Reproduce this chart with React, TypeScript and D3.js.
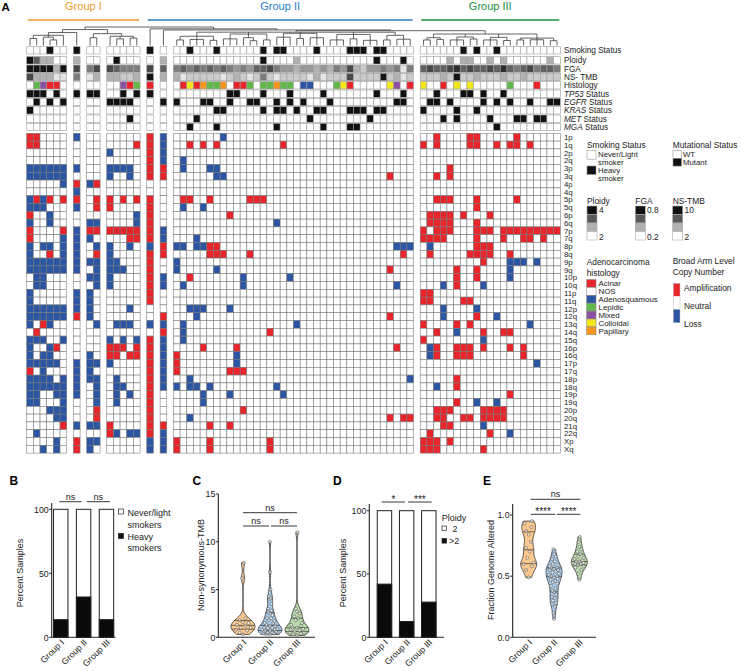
import * as d3 from "d3";

const FONT = "'Liberation Sans', Arial, Helvetica, sans-serif";
const W = 741;
const H = 671;

// ---------------- heatmap data ----------------
// columns are listed cluster by cluster, clusters are separated by one empty slot:
// 6 | 1 | 2 | 5 | 1 | 1 | 36 (six chunks of 6) | 21 (three chunks of 7)
const blockSizes = [6, 1, 2, 5, 1, 1, 36, 21];

const groups = [
  { name: "Group I", color: "#f39a2b", from: 0, to: 13 },
  { name: "Group II", color: "#2b7bc9", from: 14, to: 51 },
  { name: "Group III", color: "#22903f", from: 52, to: 72 },
];

// annotation tracks
const smoking = "...x.. x .. ..... x . ..x... x..... .x.xx. ...x.. ..xxx. xx.... ......x .x..x.. .......";
const ploidy = "321100 1 00 03000 0 1 000000 000000 030000 100000 000000 300030 0000101 1001010 0000010";
const fga = "999939 7 57 76555 7 6 565656 565454 667544 344343 547324 454515 6766786 7667686 5675665";
const tmb = "733311 5 13 33223 9 3 312222 212321 252122 221312 227222 292312 2223292 2322232 2322222";
const histology = ".lmaa. . .. ..mal a . .acapl lp.aal .llpll .ss... lca... ..cm.a c..a.c. c.....l ...a...";
const tp53 = "xxx.x. x xx ..x.x x . ...... ..xx.. .x...x ....x. ...... x...x. ..x...x x.x..x. .......";
const egfr = ".x.x.x . .. xxxx. . x x...xx ..x..x x..x.x .x...x ...... ...xx. .xx.x.. ..x.x.x ..x..xx";
const kras = "x..... . .. ..... . . ...... xx.... .x.xx. x..xx. ..xxx. xx.... x....x. .x..... .......";
const met = "...... . .. ...x. . . ...x.. ...... ...... ..x... .....x ...... ...x.x. ...x... xx.xx..";
const mga = "...... . .. ..... . . ..x... x..... ...x.. ....x. ..xx.. ...... ....... ....x.. .......";

const arms = [
  "1p", "1q", "2p", "2q", "3p", "3q", "4p", "4q", "5p", "5q", "6p", "6q", "7p", "7q",
  "8p", "8q", "9p", "9q", "10p", "10q", "11p", "11q", "12p", "12q", "13q", "14q", "15q",
  "16p", "16q", "17p", "17q", "18p", "18q", "19p", "19q", "20p", "20q", "21q", "22q", "Xp", "Xq",
];

// r = amplification, b = loss, . = neutral
const cnv = [
  "rr.... b .. ..... r b ...... .b.... ...... ...... ...... ...... ..r.... rr..... r......",
  "rr.... . .. ....r r b ..r.r. r..... ....r. ...... ...... ...... r.r.... rr..r.r r.r....",
  "...... . .. b.... r b ...... ...... ...... ...... ...... ...... ....... ....... .......",
  "...... . .. ..... r b .b.... ...... ...... ...... ...... ...... ....... ....... .......",
  "bbbbbb b .. bbbb. r r .b...b b..... ...... ...... ...... ...... ....r.. ....... .......",
  "bbbbbb . .. b..b. r r ...... bb.... ...... ...... ...... ..r... ..r.r.. ....... .......",
  ".....b r br ..... . . ...... ...... ...... ...... ...... ...... ....... ....... .......",
  "...... b .. ..... . . ...... ...... ...... ...... ...... ...... ....... ....... .......",
  "brbr.r r .r r.r.r r . .rr..r .....r rr.... ...... ...... ...... ..rrr.. .r..... r......",
  "bbb... b .r r.... r . .b..b. ...... ...... ...... ...... ...... ....... .r..... .......",
  "r..b.. . .. ....b r . ...... ..r... ...... ...... ...... ...... .rrrr.r ...r... .......",
  "b..b.. . bb ....b r . ...... ...... ...b.. ...... ...... ...... .rrrr.. .r..... .......",
  "r....r b rr rrrrr r b ...... ...... ...... ...... ...... ...... r.rrr.. .rrr.rr rrrrrrr",
  "r....b b b. ...rr r b ...b.. ...... ...... ...... ...... ...... rrrr... .r...r. .rr.r..",
  "b.bb.b b .b b..b. b r bb.bbr r..... ...... ...... ...... ...bbb .b..... .rrr... .......",
  "b..r.b b .r b.... r r .....r rr...r ...... ...... ...... ....r. .r..... rrrr..r .......",
  "bbbbbb b bb bb... r . b..... ...... ...... ...... ...... ...... ....... ..r...b bb.b...",
  "bbbbbb b .b bbb.. r . b..... b..... ...... ...... ...... ..r... .....r. .r....b .......",
  ".bb... . bb b.... r b ..r... ....b. .....b ...... ...... ...... .....r. .r....b .......",
  ".bb... . .b b.... r b .b.... ....b. ...... ...... ...... ...b.. ...b.r. ..b.... .......",
  "b..... b b. ..... r . ...... ...... ...... ...... ...... ...... rr..... ....... .......",
  "b..... b b. ..... r . ...... ...... ...... ...... ...... ...... rr....r r...... .......",
  "bbbbbb b b. ...b. . . ..bbb. ..b... ...... ...... ...... ...... ...b... .b..... .......",
  "bbbbbb r b. ..... . r ...b.. ...... ...... ...... ...... ..r... ...b... .r..b.. .......",
  "b.rb.. . .b .bbb. b b .b.... ...... ...... b..... ...... ...... r....r. r...... ..b....",
  ".r.... . .. ..... . r .b.... ...... ..r... ...... ...... ...... ..r..b. ..r..rr .......",
  "bbb..b . .. b.b.b r b .b.... ...... ...... ...... ...... ...... r...... ..b.... .......",
  "b..br. . .. rrr.r r b ....r. ...r.. ...... ...... ...... ...r.. .br..rr r.r...r .r.....",
  "b.bb.. . b. rr.rr r b r..... ...b.. ...... ...... ...... ...... .br..rr r...... .r.....",
  "bbbbb. b bb b.... r b r..... ...b.. ...... ...... ...... ...... ....... ....... ...b...",
  "r.b... b b. ..... r b r..... ..rrr. ...... ...... ...... ...... ....... ....... .......",
  "bbbb.b b bb .b... r b ..b... ...... ...... ...... ...... .....b .....r. ....... .......",
  "bbbbbb b .b .bb.. r b b.bb.b ...... ...b.. ...... ...... ...... ..b..r. ....... .......",
  "bb..bb b .b .b.b. r . ....b. ..b... ....b. ...... ...... ...... ....... ......r .......",
  "bb...b . .b .b... r . ....b. ...... ...... ...... ...... ...... .....r. .b..b.. .......",
  "...bbb . .r ..... r . ...... ....r. ...... ...... ...... ...... ..rrr.. ..rrrr. .......",
  "....bb . .r ..... r . ..b... ...... ...... ...... ...... ..r.rr ..rr..r r.rrrr. .......",
  ".....r b bb r.... r r .....r ..r... ...... ...... ...... ...... ...rr.. ..b.... .......",
  ".b.... . .. rb.bb r b ...... ...... ...... ...... ...... ...... .r..... ...r..b .......",
  "....b. r bb ..... b b r....r ...... ..r... ...... ...... ...... rrr.r.. ....... .......",
  "..b.b. r b. ..... b b r....r ...... ..r... ...... ...... ...... rrr.... ..r.... .......",
];

// dendrogram: [height, ...children], leaves are column indices
const dendrogram: any = [1.0,
  [0.86,
    [0.7, [0.55, [0.38, 0, 1], [0.45, 2, [0.3, 3, 4]], 5], 6],
    [0.64, [0.42, 7, 8], [0.5, 9, [0.36, 10, 11], [0.4, 12, 13]]]],
  [0.9, 14,
    [0.84, 15,
      [0.8,
        [0.72,
          [0.5, [0.3, 16, 17], [0.33, 18, 19, 20], [0.28, 21, 22]],
          [0.62, [0.36, 23, 24, 25], [0.42, 26, [0.26, 27, 28]], [0.3, 29, 30]],
          [0.66, [0.45, 31, 32, 33], [0.38, 34, 35], [0.42, 36, 37, 38]],
          [0.6, [0.3, 39, 40, 41], [0.36, 42, 43], [0.28, 44, 45, 46]],
          [0.55, [0.3, 47, 48], [0.34, 49, 50, 51]]],
        [0.62,
          [0.42, [0.3, 52, 53], [0.33, 54, 55]],
          [0.46, [0.3, 56, 57, 58], [0.35, 59, 60]],
          [0.44, [0.3, 61, 62, 63], [0.27, 64, 65]],
          [0.4, [0.3, 66, 67], [0.31, 68, 69, 70], [0.26, 71, 72]]]]]]];

// ---------------- bottom panel data ----------------
const groupNames = ["Group I", "Group II", "Group III"];
const heavySmokers = [13.8, 31.5, 13.8];
const ploidyAbove2 = [42, 12.5, 27.8];

const tmbValues = [
  [7.8, 6.2, 2.0, 1.8, 1.6, 1.5, 1.3, 1.2, 1.0, 1.0, 0.8, 0.7, 0.5, 0.3],
  [10, 6.8, 5.0, 4.3, 4.1, 4.0, 3.5, 3.0, 2.8, 2.6, 2.5, 2.3, 2.0, 2.0, 1.8, 1.7, 1.5, 1.5, 1.3, 1.2,
    1.2, 1.0, 1.0, 1.0, 0.9, 0.8, 0.8, 0.7, 0.7, 0.6, 0.6, 0.5, 0.5, 0.5, 0.4, 0.4, 0.3, 0.3],
  [11, 3.0, 2.7, 2.5, 2.2, 2.0, 1.8, 1.5, 1.3, 1.2, 1.0, 1.0, 0.9, 0.8, 0.7, 0.6, 0.5, 0.5, 0.4, 0.3, 0.2],
];
const fgaValues = [
  [0.95, 0.93, 0.9, 0.87, 0.84, 0.78, 0.73, 0.7, 0.65, 0.61, 0.6, 0.58, 0.55, 0.49],
  [0.72, 0.68, 0.66, 0.64, 0.62, 0.6, 0.59, 0.58, 0.57, 0.57, 0.56, 0.55, 0.55, 0.54, 0.53, 0.52, 0.51, 0.5,
    0.5, 0.49, 0.48, 0.47, 0.46, 0.45, 0.44, 0.42, 0.4, 0.38, 0.37, 0.35, 0.33, 0.32, 0.3, 0.28, 0.27, 0.25, 0.2, 0.15],
  [0.82, 0.78, 0.74, 0.72, 0.7, 0.68, 0.66, 0.65, 0.64, 0.63, 0.62, 0.62, 0.61, 0.6, 0.6, 0.59, 0.58, 0.57, 0.55, 0.52, 0.47],
];
const violinFills = ["#fbc98f", "#a9cbeb", "#b9daa9"];

// ---------------- colours ----------------
const RED = "#e8252b";
const BLUE = "#2c56a4";
const histColors: Record<string, string> = {
  a: RED, ".": "#ffffff", s: BLUE, l: "#62b94a", m: "#8b52a1", c: "#f4e81c", p: "#f7961f",
};
const histLegend = [["a", "Acinar"], [".", "NOS"], ["s", "Adenosquamous"], ["l", "Lepidic"], ["m", "Mixed"], ["c", "Colloidal"], ["p", "Papillary"]];
const ploidyColors = ["#ffffff", "#b0b0b0", "#5a5a5a", "#111111"];
const grey = d3.scaleLinear<string>().domain([0, 9]).range(["#ffffff", "#141414"]);

const parse = (s: string) => {
  const a = s.replace(/\s+/g, "").split("");
  while (a.length < 73) a.push(".");
  return a.slice(0, 73);
};

// column -> slot
const colSlot: number[] = [];
{
  let s = 0;
  blockSizes.forEach((n) => {
    for (let i = 0; i < n; i++) colSlot.push(s++);
    s++;
  });
}
const xSlot = d3.scaleBand<number>().domain(d3.range(80)).range([26.7, 560.3]);
const bw = xSlot.bandwidth();
const colX = (c: number) => xSlot(colSlot[c]) as number;

const yArm = d3.scaleBand<string>().domain(arms).range([133.3, 133.3 + arms.length * 7.8]);

type Track = { label: string; italic?: string; data: string[]; color: (v: string) => string };
const mut = (v: string) => (v === "x" ? "#111" : "#fff");
const tracks: Track[] = [
  { label: "Smoking Status", data: parse(smoking), color: mut },
  { label: "Ploidy", data: parse(ploidy), color: (v) => ploidyColors[+v] },
  { label: "FGA", data: parse(fga), color: (v) => grey(+v) },
  { label: "NS- TMB", data: parse(tmb), color: (v) => grey(+v) },
  { label: "Histology", data: parse(histology), color: (v) => histColors[v] },
  { label: " Status", italic: "TP53", data: parse(tp53), color: mut },
  { label: " Status", italic: "EGFR", data: parse(egfr), color: mut },
  { label: " Status", italic: "KRAS", data: parse(kras), color: mut },
  { label: " Status", italic: "MET", data: parse(met), color: mut },
  { label: " Status", italic: "MGA", data: parse(mga), color: mut },
];
const trackY = (i: number) => (i === 0 ? 46.7 : 56.7 + (i - 1) * 8.33);
const TRACK_H = 7.3;

// dendrogram layout
const yDen = d3.scaleLinear().domain([0, 1]).range([45.5, 27]);
type Seg = { x1: number; x2: number; y1: number; y2: number };
function layoutTree(t: any, out: Seg[]): { x: number; y: number } {
  if (typeof t === "number") return { x: colX(t) + bw / 2, y: yDen(0) };
  const [h, ...kids] = t;
  const pts = kids.map((k: any) => layoutTree(k, out));
  const y = yDen(h);
  const xs = pts.map((p: any) => p.x);
  const lo = d3.min(xs) as number;
  const hi = d3.max(xs) as number;
  out.push({ x1: lo, x2: hi, y1: y, y2: y });
  pts.forEach((p: any) => out.push({ x1: p.x, x2: p.x, y1: y, y2: p.y }));
  return { x: (lo + hi) / 2, y };
}
const denLines: Seg[] = [];
layoutTree(dendrogram, denLines);

// ---------------- small chart helpers ----------------
function YAxis({ x, scale, ticks, fmt, top }: any) {
  const bottom = scale.range()[0];
  return (
    <g>
      <line x1={x} x2={x} y1={top} y2={bottom} stroke="#222" strokeWidth={1.1} />
      {ticks.map((t: number) => (
        <g key={t}>
          <line x1={x - 2.5} x2={x} y1={scale(t)} y2={scale(t)} stroke="#222" strokeWidth={1} />
          <text x={x - 3} y={scale(t) + 3.2} textAnchor="end" fontSize={8.8} fill="#222">{fmt(t)}</text>
        </g>
      ))}
    </g>
  );
}

function XLabels({ xs, y }: { xs: number[]; y: number }) {
  return (
    <g>
      {groupNames.map((g, i) => (
        <text key={g} transform={`translate(${xs[i] + 4},${y}) rotate(-45)`} textAnchor="end" fontSize={8.8} fill="#222">{g}</text>
      ))}
    </g>
  );
}

function Sig({ x1, x2, y, label, dy = -2, size = 9 }: any) {
  return (
    <g>
      <line x1={x1} x2={x2} y1={y} y2={y} stroke="#222" strokeWidth={0.9} />
      <text x={(x1 + x2) / 2} y={y + dy} textAnchor="middle" fontSize={size} fill="#222">{label}</text>
    </g>
  );
}

function Violin({ values, cx, y, half, bwK, fill }: any) {
  const lo = d3.min(values) as number;
  const hi = d3.max(values) as number;
  const dens = (g: number) => d3.mean(values as number[], (v) => Math.exp(-0.5 * ((g - v) / bwK) ** 2)) as number;
  const grid = d3.range(61).map((i) => lo + ((hi - lo) * i) / 60);
  const pts: [number, number][] = grid.map((g) => [g, dens(g)]);
  const maxD = d3.max(pts, (p) => p[1]) as number;
  const w = d3.scaleLinear().domain([0, maxD]).range([0, half]);
  const area = d3
    .area<[number, number]>()
    .y((d) => y(d[0]))
    .x0((d) => cx - w(d[1]))
    .x1((d) => cx + w(d[1]))
    .curve(d3.curveCatmullRom);
  const sorted = [...values].sort((a: number, b: number) => a - b);
  const qs = [0.25, 0.5, 0.75].map((q) => d3.quantile(sorted, q) as number);
  const offs = [0, -0.5, 0.5, -0.8, 0.8, -0.25, 0.25, -0.65, 0.65];
  return (
    <g>
      <path d={area(pts) || ""} fill={fill} stroke="#333" strokeWidth={0.8} />
      {qs.map((q, i) => (
        <line key={i} x1={cx - w(dens(q))} x2={cx + w(dens(q))} y1={y(q)} y2={y(q)} stroke="#333" strokeWidth={0.7} />
      ))}
      {sorted.map((v: number, i: number) => (
        <circle key={i} cx={cx + offs[i % offs.length] * w(dens(v)) * 0.8} cy={y(v)} r={1.5}
          fill="#fff" fillOpacity={0.6} stroke="#444" strokeWidth={0.5} />
      ))}
    </g>
  );
}

// ---------------- component ----------------
export default function App() {
  const cnvData = cnv.map(parse);

  // panel scales
  const yB = d3.scaleLinear().domain([0, 100]).range([637.3, 509.3]);
  const xB = d3.scaleBand<string>().domain(groupNames).range([51.7, 115.5]).paddingInner(0.37).paddingOuter(0.08);
  const yC = d3.scaleLinear().domain([0, 15]).range([637.3, 494]);
  const xC = d3.scaleBand<string>().domain(groupNames).range([229.5, 310.5]);
  const yD = d3.scaleLinear().domain([0, 100]).range([637.3, 510.7]);
  const xD = d3.scaleBand<string>().domain(groupNames).range([369.3, 444]).paddingInner(0.35).paddingOuter(0.36);
  const yE = d3.scaleLinear().domain([0, 1]).range([637.3, 515]);
  const xE = d3.scaleBand<string>().domain(groupNames).range([516, 592]);

  const cB = groupNames.map((g) => (xB(g) as number) + xB.bandwidth() / 2);
  const cC = groupNames.map((g) => (xC(g) as number) + xC.bandwidth() / 2);
  const cD = groupNames.map((g) => (xD(g) as number) + xD.bandwidth() / 2);
  const cE = groupNames.map((g) => (xE(g) as number) + xE.bandwidth() / 2);

  const legendBoxes = (x: number, y0: number) =>
    [3, 2, 1, 0].map((lv, i) => (
      <rect key={i} x={x} y={y0 + i * 8.5} width={10} height={8.5} fill={ploidyColors[lv]} stroke="#aaa" strokeWidth={0.6} />
    ));

  return (
    <svg width={W} height={H} style={{ position: "absolute", left: 0, top: 0, background: "#fff" }} fontFamily={FONT}>
      <rect width={W} height={H} fill="#fff" />

      {/* ---- panel A ---- */}
      <text x={1.5} y={10.5} fontSize={11.5} fontWeight="bold">A</text>
      {groups.map((g) => {
        const x1 = colX(g.from);
        const x2 = colX(g.to) + bw;
        return (
          <g key={g.name}>
            <text x={(x1 + x2) / 2} y={10} textAnchor="middle" fontSize={11} fill={g.color}>{g.name}</text>
            <line x1={x1 + 1} x2={x2 - 1} y1={20} y2={20} stroke={g.color} strokeWidth={1.3} />
          </g>
        );
      })}

      {/* dendrogram */}
      <g stroke="#3c3c3c" strokeWidth={0.8}>
        {denLines.map((l, i) => <line key={i} {...l} />)}
      </g>

      {/* annotation tracks */}
      {tracks.map((t, ti) => (
        <g key={ti}>
          {t.data.map((v, c) => (
            <rect key={c} x={colX(c)} y={trackY(ti)} width={bw} height={TRACK_H} fill={t.color(v)} stroke="#9d9d9d" strokeWidth={0.6} />
          ))}
          <text x={564} y={trackY(ti) + TRACK_H / 2 + 2.9} fontSize={8.2} fill="#222">
            {t.italic ? <tspan fontStyle="italic">{t.italic}</tspan> : null}
            {t.label}
          </text>
        </g>
      ))}

      {/* copy number heatmap */}
      {cnvData.map((row, ri) => (
        <g key={arms[ri]}>
          {row.map((v, c) => (
            <rect key={c} x={colX(c)} y={yArm(arms[ri])} width={bw} height={yArm.bandwidth()}
              fill={v === "r" ? RED : v === "b" ? BLUE : "#fff"} stroke="#777" strokeWidth={0.55} />
          ))}
          <text x={564} y={(yArm(arms[ri]) as number) + yArm.bandwidth() / 2 + 2.8} fontSize={7.8} fill="#222">{arms[ri]}</text>
        </g>
      ))}

      {/* legends */}
      <g fontSize={8.4} fill="#222">
        <text x={587} y={148}>Smoking Status</text>
        <rect x={587} y={150.7} width={9} height={8.5} fill="#fff" stroke="#999" strokeWidth={0.6} />
        <g fontSize={7.8}>
          <text x={598} y={157.4}>Never/Light</text>
          <text x={598} y={165.4}>smoker</text>
          <text x={598} y={173.4}>Heavy</text>
          <text x={598} y={181.4}>smoker</text>
        </g>
        <rect x={587} y={166} width={9} height={8.5} fill="#111" stroke="#999" strokeWidth={0.6} />

        <text x={672.7} y={148}>Mutational Status</text>
        <rect x={673} y={150.5} width={8.5} height={7.8} fill="#fff" stroke="#999" strokeWidth={0.6} />
        <g fontSize={7.8}>
          <text x={683} y={157.2}>WT</text>
          <text x={683} y={165.3}>Mutant</text>
        </g>
        <rect x={673} y={158.3} width={8.5} height={7.8} fill="#111" stroke="#999" strokeWidth={0.6} />

        <text x={587} y={203.5}>Ploidy</text>
        {legendBoxes(587, 206)}
        <text x={599} y={212.5}>4</text>
        <text x={599} y={239.5}>2</text>
        <text x={635.3} y={203.5}>FGA</text>
        {legendBoxes(635.3, 206)}
        <text x={647} y={212.5}>0.8</text>
        <text x={647} y={239.5}>0.2</text>
        <text x={672.7} y={203.5}>NS-TMB</text>
        {legendBoxes(672.7, 206)}
        <text x={684.5} y={212.5}>10</text>
        <text x={684.5} y={239.5}>2</text>

        <text x={586.7} y={264.7}>Adenocarcinoma</text>
        <text x={586.7} y={275.7}>histology</text>
        {histLegend.map(([k, name], i) => (
          <g key={k}>
            <rect x={586.7} y={279.5 + i * 7.9} width={9.3} height={7.9} fill={histColors[k]} stroke="#8a8a8a" strokeWidth={0.6} />
            <text x={598.5} y={286.1 + i * 7.9} fontSize={7.9}>{name}</text>
          </g>
        ))}

        <text x={672.7} y={263.7}>Broad Arm Level</text>
        <text x={672.7} y={274.7}>Copy Number</text>
        <rect x={673.3} y={283.3} width={6.7} height={13.1} fill={RED} />
        <rect x={673.3} y={296.4} width={6.7} height={13.1} fill="#fff" />
        <rect x={673.3} y={309.5} width={6.7} height={13.2} fill={BLUE} />
        <rect x={673.3} y={283.3} width={6.7} height={39.4} fill="none" stroke="#bbb" strokeWidth={0.5} />
        <text x={684} y={290.5}>Amplification</text>
        <text x={684} y={309}>Neutral</text>
        <text x={684} y={327}>Loss</text>
      </g>

      {/* ---- panel B ---- */}
      <text x={9.5} y={485} fontSize={12} fontWeight="bold">B</text>
      <YAxis x={51.7} scale={yB} ticks={[0, 50, 100]} fmt={(t: number) => t} top={503} />
      <line x1={51.7} x2={115.5} y1={637.3} y2={637.3} stroke="#222" strokeWidth={1.1} />
      {groupNames.map((g, i) => (
        <g key={g}>
          <rect x={xB(g)} y={yB(100)} width={xB.bandwidth()} height={yB(0) - yB(100)} fill="#fff" stroke="#222" strokeWidth={1} />
          <rect x={xB(g)} y={yB(heavySmokers[i])} width={xB.bandwidth()} height={yB(0) - yB(heavySmokers[i])} fill="#0a0a0a" stroke="#222" strokeWidth={1} />
        </g>
      ))}
      <XLabels xs={cB} y={643} />
      <text transform="translate(23,573) rotate(-90)" textAnchor="middle" fontSize={9} fill="#222">Percent Samples</text>
      <Sig x1={59.3} x2={81.7} y={501.7} label="ns" />
      <Sig x1={86.7} x2={110} y={501.7} label="ns" />
      <g fontSize={9} fill="#222">
        <rect x={118.5} y={509} width={5} height={5} fill="#fff" stroke="#222" strokeWidth={0.7} />
        <text x={127.5} y={516}>Never/light</text>
        <text x={127.5} y={527.5}>smokers</text>
        <rect x={118.5} y={533.5} width={5} height={5} fill="#111" stroke="#222" strokeWidth={0.7} />
        <text x={127.5} y={540}>Heavy</text>
        <text x={127.5} y={550.5}>smokers</text>
      </g>

      {/* ---- panel C ---- */}
      <text x={192.5} y={485} fontSize={12} fontWeight="bold">C</text>
      <YAxis x={218.3} scale={yC} ticks={[0, 5, 10, 15]} fmt={(t: number) => t} top={494} />
      <line x1={218.3} x2={315} y1={637.3} y2={637.3} stroke="#222" strokeWidth={1.1} />
      {groupNames.map((g, i) => (
        <Violin key={g} values={tmbValues[i]} cx={cC[i]} y={yC} half={12} bwK={0.45} fill={violinFills[i]} />
      ))}
      <XLabels xs={cC} y={643} />
      <text transform="translate(204,565) rotate(-90)" textAnchor="middle" fontSize={9} fill="#222">Non-synonymous-TMB</text>
      <Sig x1={cC[0]} x2={cC[2]} y={512.7} label="ns" />
      <Sig x1={cC[0]} x2={cC[1] - 1} y={526} label="ns" />
      <Sig x1={cC[1] + 1} x2={cC[2]} y={526} label="ns" />

      {/* ---- panel D ---- */}
      <text x={333} y={485} fontSize={12} fontWeight="bold">D</text>
      <YAxis x={369.3} scale={yD} ticks={[0, 50, 100]} fmt={(t: number) => t} top={504} />
      <line x1={369.3} x2={444} y1={637.3} y2={637.3} stroke="#222" strokeWidth={1.1} />
      {groupNames.map((g, i) => (
        <g key={g}>
          <rect x={xD(g)} y={yD(100)} width={xD.bandwidth()} height={yD(0) - yD(100)} fill="#fff" stroke="#222" strokeWidth={1} />
          <rect x={xD(g)} y={yD(ploidyAbove2[i])} width={xD.bandwidth()} height={yD(0) - yD(ploidyAbove2[i])} fill="#0a0a0a" stroke="#222" strokeWidth={1} />
        </g>
      ))}
      <XLabels xs={cD} y={643} />
      <text transform="translate(346,573) rotate(-90)" textAnchor="middle" fontSize={9} fill="#222">Percent Samples</text>
      <Sig x1={381.7} x2={405} y={502} label="*" dy={0.5} size={10} />
      <Sig x1={408} x2={431.7} y={502} label="***" dy={0.5} size={10} />
      <g fontSize={9} fill="#222">
        <text x={441.7} y={521}>Ploidy</text>
        <rect x={442} y={526} width={4.6} height={4.6} fill="#fff" stroke="#222" strokeWidth={0.7} />
        <text x={452.5} y={531.5}>2</text>
        <rect x={442} y={538.5} width={4.6} height={4.6} fill="#111" stroke="#222" strokeWidth={0.7} />
        <text x={449} y={544}>&gt;2</text>
      </g>

      {/* ---- panel E ---- */}
      <text x={483} y={485} fontSize={12} fontWeight="bold">E</text>
      <YAxis x={512.7} scale={yE} ticks={[0, 0.5, 1]} fmt={(t: number) => t.toFixed(1)} top={504} />
      <line x1={512.7} x2={596} y1={637.3} y2={637.3} stroke="#222" strokeWidth={1.1} />
      {groupNames.map((g, i) => (
        <Violin key={g} values={fgaValues[i]} cx={cE[i]} y={yE} half={8} bwK={0.04} fill={violinFills[i]} />
      ))}
      <XLabels xs={cE} y={643} />
      <text transform="translate(493.5,570) rotate(-90)" textAnchor="middle" fontSize={9} fill="#222">Fraction Genome Altered</text>
      <Sig x1={cE[0] + 2} x2={cE[2] + 1} y={499.3} label="ns" />
      <Sig x1={cE[0] + 2} x2={cE[1] + 1.5} y={514.3} label="****" dy={1} size={10} />
      <Sig x1={cE[1] + 3} x2={cE[2] + 1} y={514.3} label="****" dy={1} size={10} />
    </svg>
  );
}
